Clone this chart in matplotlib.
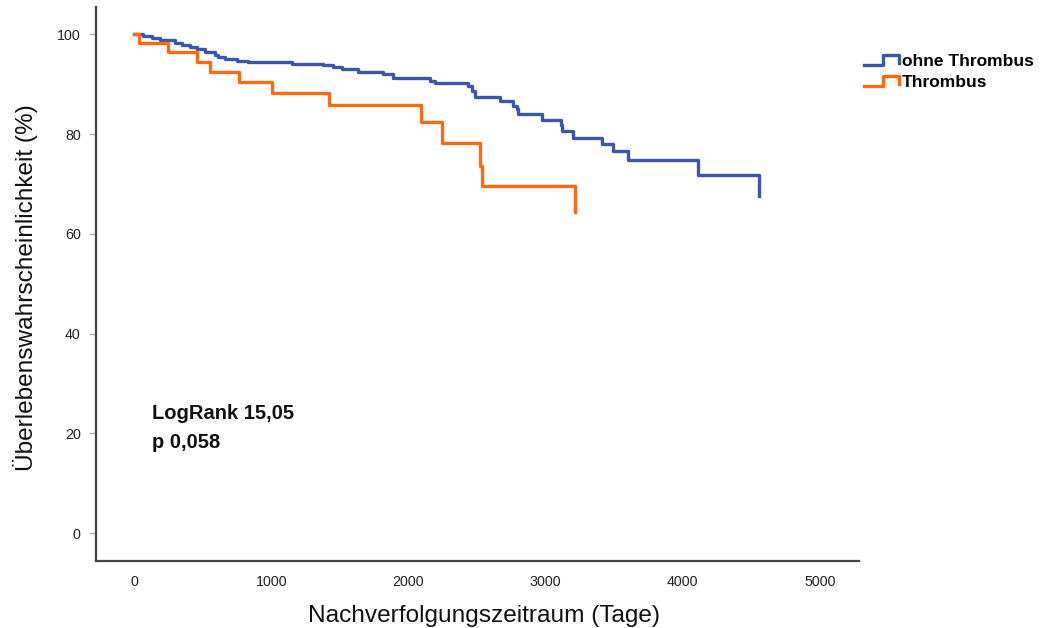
import matplotlib
matplotlib.use("Agg")
import matplotlib.pyplot as plt
from matplotlib.lines import Line2D
from matplotlib.legend_handler import HandlerBase

plt.rcParams['font.family'] = ['Liberation Sans', 'DejaVu Sans']

# Data: Kaplan-Meier step curves (time in days, survival in %)
t_ohne = [0, 66, 129, 190, 299, 347, 408, 457, 517, 590, 615, 663, 748, 833, 1149,
          1380, 1453, 1514, 1635, 1817, 1886, 2157, 2194, 2437, 2461, 2485, 2668,
          2764, 2789, 2801, 2972, 3112, 3119, 3202, 3409, 3494, 3603, 4109, 4555]
s_ohne = [100, 99.7, 99.3, 98.9, 98.2, 97.9, 97.5, 97.0, 96.5, 95.9, 95.4, 95.0, 94.7,
          94.5, 94.1, 93.8, 93.4, 93.0, 92.5, 92.0, 91.3, 90.6, 90.2, 89.7, 88.7, 87.5,
          86.6, 85.6, 85.0, 84.0, 82.8, 81.8, 80.6, 79.3, 78.0, 76.6, 74.9, 71.8, 67.6]

t_thr = [0, 36, 250, 457, 554, 765, 1008, 1424, 2092, 2243, 2522, 2534, 3212]
s_thr = [100, 98.3, 96.5, 94.5, 92.5, 90.4, 88.2, 85.8, 82.4, 78.3, 73.7, 69.7, 64.3]

labels = ["ohne Thrombus", "Thrombus"]
xticks = [0, 1000, 2000, 3000, 4000, 5000]
yticks = [0, 20, 40, 60, 80, 100]

BLUE = '#3C56A8'
ORANGE = '#FF6A10'

fig = plt.figure(figsize=(10.41, 6.28), dpi=100)
ax = fig.add_axes([0.0922, 0.1072, 0.7330, 0.8817])

l1, = ax.step(t_ohne, s_ohne, where='post', color=BLUE, lw=2.4, label=labels[0])
l2, = ax.step(t_thr, s_thr, where='post', color=ORANGE, lw=2.4, label=labels[1])

ax.set_xlim(-277, 5284)
ax.set_ylim(-5.5, 105.5)
ax.set_xticks(xticks)
ax.set_yticks(yticks)

for side in ['top', 'right']:
    ax.spines[side].set_visible(False)
for side in ['left', 'bottom']:
    ax.spines[side].set_color('#444444')
    ax.spines[side].set_linewidth(1.6)

ax.tick_params(axis='x', length=0, pad=10, labelsize=10.3, labelcolor='#222222')
ax.tick_params(axis='y', length=5, width=1, color='#aaaaaa', pad=6,
               labelsize=10.3, labelcolor='#222222')

ax.set_xlabel("Nachverfolgungszeitraum (Tage)", fontsize=17.6, color='#111111', labelpad=12)
ax.set_ylabel("Überlebenswahrscheinlichkeit (%)", fontsize=17.6, color='#111111', labelpad=14)
ax.xaxis.label.set_x(0.5085)
ax.yaxis.label.set_y(0.4925)

ax.text(130, 24.0, "LogRank 15,05", fontsize=14.5, fontweight='bold', color='#111111',
        va='center', ha='left')
ax.text(130, 18.1, "p 0,058", fontsize=14.5, fontweight='bold', color='#111111',
        va='center', ha='left')


class StepHandler(HandlerBase):
    def create_artists(self, legend, orig_handle, xdescent, ydescent, width, height,
                       fontsize, trans):
        x0 = -xdescent
        y0 = -ydescent
        xs = [x0, x0 + 0.55 * width, x0 + 0.55 * width, x0 + width, x0 + width]
        ys = [y0 + 0.1 * height, y0 + 0.1 * height, y0 + 0.95 * height,
              y0 + 0.95 * height, y0 + 0.25 * height]
        ln = Line2D(xs, ys, color=orig_handle.get_color(), lw=2.4, transform=trans)
        return [ln]


fig.legend([l1, l2], labels, loc='upper left', bbox_to_anchor=(0.8232, 0.925),
           frameon=False, handler_map={Line2D: StepHandler()},
           prop={'weight': 'bold', 'size': 12.5}, handlelength=2.0, handleheight=0.7,
           handletextpad=0.2, labelspacing=0.33, borderaxespad=0)

fig.savefig("out.png", dpi=100)
